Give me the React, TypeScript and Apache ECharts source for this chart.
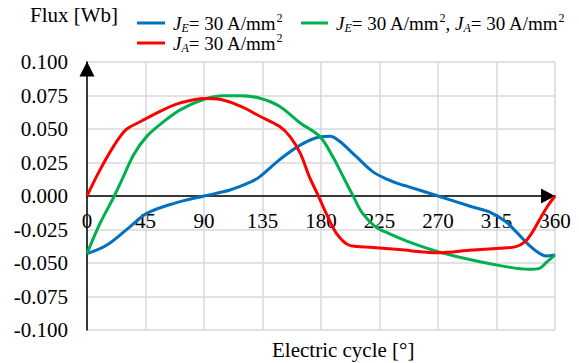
import React, { useEffect, useRef } from "react";
import * as echarts from "echarts";

const xTicks = [0, 45, 90, 135, 180, 225, 270, 315, 360];
const yTicks = [-0.1, -0.075, -0.05, -0.025, 0, 0.025, 0.05, 0.075, 0.1];

const blueDeg = [0, 15, 33, 46, 67, 90, 110, 126, 133, 148, 164, 179, 187, 194, 207, 220, 232, 240, 247, 270, 296, 309, 322, 330, 340, 348, 353, 360];
const blueVal = [-0.043, -0.0368, -0.023, -0.013, -0.0055, 0, 0.0045, 0.0105, 0.0145, 0.027, 0.038, 0.044, 0.0445, 0.041, 0.0295, 0.018, 0.012, 0.009, 0.007, 0, -0.008, -0.0117, -0.019, -0.0266, -0.0366, -0.0428, -0.0448, -0.044];

const redDeg = [0, 10, 21, 30, 39, 59, 72, 90, 103, 118, 133, 148, 156, 164, 171, 178, 184, 192, 202, 215, 240, 270, 296, 317, 330, 337, 342, 348, 354, 360];
const redVal = [0, 0.0195, 0.038, 0.0495, 0.0545, 0.0645, 0.0695, 0.0728, 0.072, 0.067, 0.0595, 0.052, 0.0445, 0.032, 0.0145, 0, -0.013, -0.028, -0.0368, -0.038, -0.04, -0.0423, -0.0403, -0.039, -0.0378, -0.034, -0.0279, -0.0179, -0.008, 0];

const greenDeg = [0, 10, 21, 28, 36, 46, 59, 72, 90, 105, 118, 133, 148, 164, 179, 189, 197, 205, 212, 222, 232, 247, 270, 296, 322, 340, 348, 354, 360];
const greenVal = [-0.043, -0.0205, 0, 0.0145, 0.031, 0.0445, 0.0555, 0.0645, 0.0722, 0.0748, 0.0748, 0.073, 0.067, 0.0545, 0.0445, 0.0295, 0.0145, -0.0005, -0.013, -0.023, -0.0279, -0.034, -0.0415, -0.0478, -0.0527, -0.0547, -0.054, -0.049, -0.044];

const legendLabels: Record<string, string> = {
  JE: "{it|J}{sub|E}{n|= 30 A/mm}{sup|2}",
  JEJA: "{it|J}{sub|E}{n|= 30 A/mm}{sup|2}{n|, }{it|J}{sub|A}{n|= 30 A/mm}{sup|2}",
  JA: "{it|J}{sub|A}{n|= 30 A/mm}{sup|2}",
};

const FONT = "Liberation Serif";
const LF = 19;

const zip = (xs: number[], ys: number[]) => xs.map((x, i) => [x, ys[i]]);

const rich = {
  n: { fontFamily: FONT, fontSize: LF, color: "#000", lineHeight: 22 },
  it: { fontFamily: FONT, fontSize: LF, fontStyle: "italic", color: "#000", lineHeight: 22 },
  sub: { fontFamily: FONT, fontSize: 12, fontStyle: "italic", color: "#000", lineHeight: 12, verticalAlign: "bottom" },
  sup: { fontFamily: FONT, fontSize: 12, color: "#000", lineHeight: 12, verticalAlign: "top" },
};

const mkLegend = (name: string, left: number, top: number, w: number) => ({
  show: true,
  data: [name],
  left,
  top,
  padding: 0,
  icon: "rect",
  itemWidth: w,
  itemHeight: 3,
  itemGap: 0,
  formatter: (n: string) => legendLabels[n],
  textStyle: { fontFamily: FONT, fontSize: LF, color: "#000", padding: [0, 0, 0, 3], rich },
});

export default function App() {
  const ref = useRef<HTMLDivElement>(null);
  useEffect(() => {
    if (!ref.current) return;
    const chart = echarts.init(ref.current, null, { renderer: "svg" });
    const lineW = 3;
    chart.setOption({
      animation: false,
      backgroundColor: "#fff",
      textStyle: { fontFamily: FONT },
      legend: [mkLegend("JE", 137, 12, 28), mkLegend("JEJA", 301, 12, 27), mkLegend("JA", 137, 32, 28)],
      grid: { left: 87, right: 24, top: 62, bottom: 33, containLabel: false },
      xAxis: {
        type: "value",
        min: 0,
        max: 360,
        interval: 45,
        offset: -134,
        axisLine: {
          show: true,
          onZero: false,
          symbol: ["none", "triangle"],
          symbolSize: [15, 14],
          symbolOffset: [0, -7],
          lineStyle: { color: "#000", width: 1.5 },
        },
        axisTick: { show: false },
        axisLabel: {
          show: true,
          fontFamily: FONT,
          fontSize: 21,
          color: "#000",
          margin: 14,
          showMinLabel: true,
          showMaxLabel: true,
          hideOverlap: false,
          formatter: (v: number) => (xTicks.includes(v) ? String(v) : ""),
        },
        splitLine: { show: true, lineStyle: { color: "#d9d9d9", width: 1.5 } },
      },
      yAxis: {
        type: "value",
        min: -0.1,
        max: 0.1,
        interval: 0.025,
        axisLine: {
          show: true,
          onZero: false,
          symbol: ["none", "triangle"],
          symbolSize: [15, 15],
          symbolOffset: [0, -7],
          lineStyle: { color: "#000", width: 1.5 },
        },
        axisTick: { show: false },
        axisLabel: {
          fontFamily: FONT,
          fontSize: 21,
          color: "#000",
          margin: 19,
          formatter: (v: number) => {
            const t = yTicks.find((y) => Math.abs(y - v) < 1e-9);
            return t === undefined ? "" : t.toFixed(3);
          },
        },
        splitLine: { show: true, lineStyle: { color: "#d9d9d9", width: 1.5 } },
      },
      graphic: [
        {
          type: "text",
          left: 30,
          top: 4,
          style: { text: "Flux [Wb]", fontFamily: FONT, fontSize: 21, fill: "#000" },
        },
        {
          type: "text",
          left: 272,
          top: 339,
          style: { text: "Electric cycle [°]", fontFamily: FONT, fontSize: 21, fill: "#000" },
        },
      ],
      series: [
        {
          name: "JE",
          type: "line",
          data: zip(blueDeg, blueVal),
          smooth: 0.35,
          symbol: "none",
          lineStyle: { color: "#0070C0", width: lineW },
          itemStyle: { color: "#0070C0" },
          z: 3,
        },
        {
          name: "JEJA",
          type: "line",
          data: zip(greenDeg, greenVal),
          smooth: 0.35,
          symbol: "none",
          lineStyle: { color: "#00B050", width: lineW },
          itemStyle: { color: "#00B050" },
          z: 4,
        },
        {
          name: "JA",
          type: "line",
          data: zip(redDeg, redVal),
          smooth: 0.35,
          symbol: "none",
          lineStyle: { color: "#FF0000", width: lineW },
          itemStyle: { color: "#FF0000" },
          z: 5,
        },
      ],
    });
    return () => chart.dispose();
  }, []);
  return <div ref={ref} style={{ width: 579, height: 363, position: "absolute", left: 0, top: 0 }} />;
}
